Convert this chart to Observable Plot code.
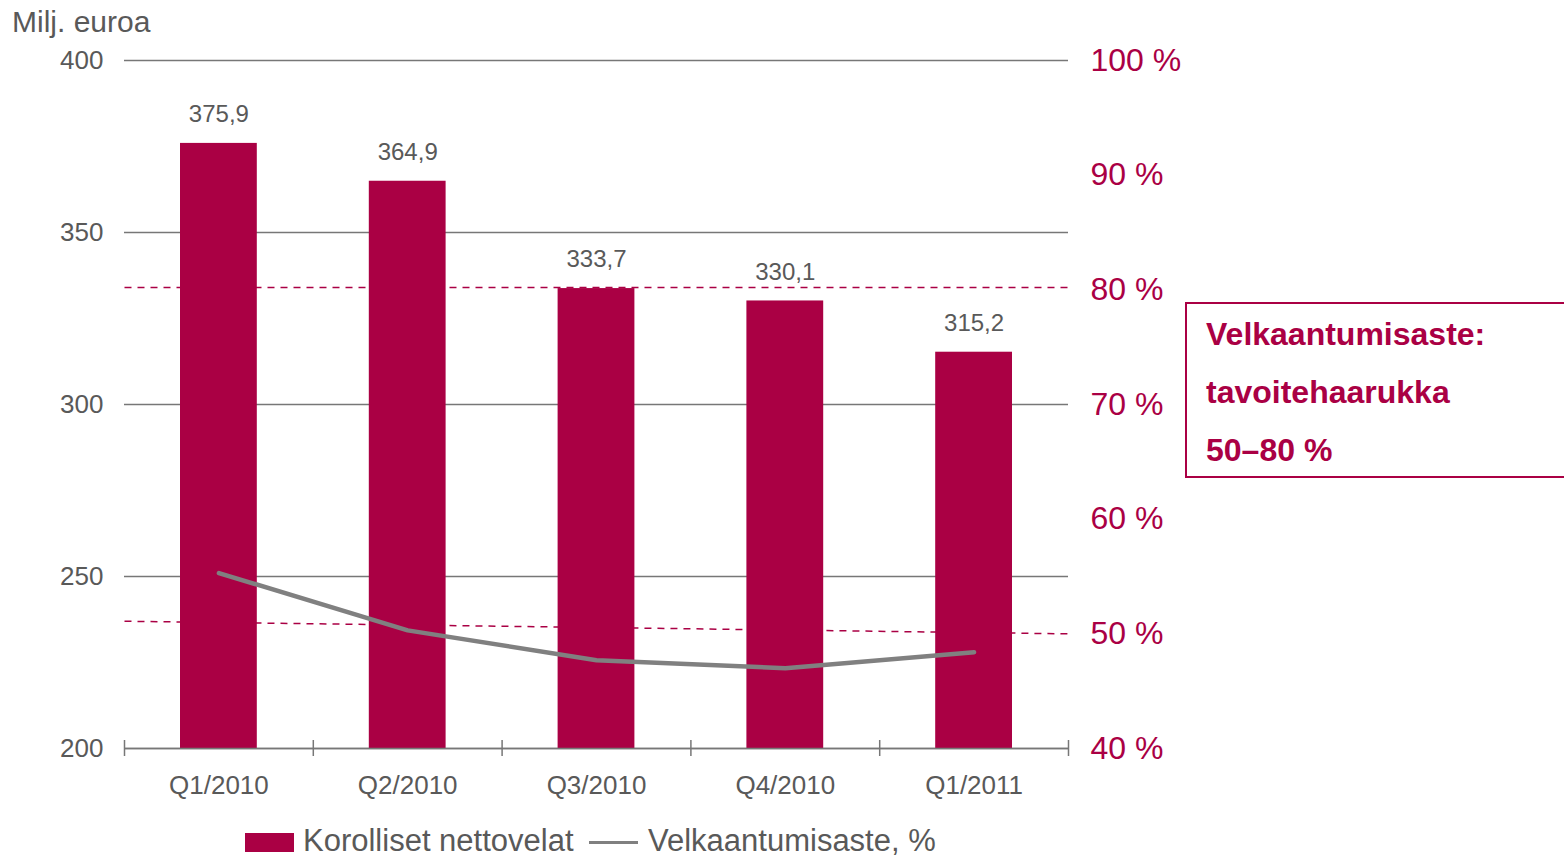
<!DOCTYPE html>
<html><head><meta charset="utf-8">
<script src="https://cdn.jsdelivr.net/npm/d3@7"></script>
<script src="https://cdn.jsdelivr.net/npm/@observablehq/plot@0.6"></script>
<style>
html,body{margin:0;padding:0;background:#fff}
body{width:1564px;height:858px;overflow:hidden;position:relative;font-family:"Liberation Sans",Arial,sans-serif}
#chart{position:absolute;left:0;top:0}
#ytitle{position:absolute;left:12px;top:7px;font-size:30px;line-height:30px;color:#595959;white-space:nowrap}
#box{position:absolute;left:1185px;top:302px;width:420px;height:176px;box-sizing:border-box;border:2px solid #AA0044;padding:1px 0 0 19px;color:#AA0044;font-weight:bold;font-size:32px;line-height:58px;white-space:nowrap}
.lg{position:absolute;white-space:nowrap}
.lgtext{top:825px;font-size:31px;line-height:31px;color:#595959}
</style>
</head><body>
<div id="chart"></div>
<div id="ytitle"></div>
<div id="box"></div>
<div id="legend"></div>
<script>
// ---- data ----
const quarters = ["Q1/2010", "Q2/2010", "Q3/2010", "Q4/2010", "Q1/2011"];
const netDebt = [375.9, 364.9, 333.7, 330.1, 315.2];          // Milj. euroa
const gearing = [55.3, 50.3, 47.7, 47.0, 48.4];               // Velkaantumisaste, %
const targetUpperStartEnd = [80.2, 80.2];                      // tavoitehaarukan yläraja (%)
const targetLowerStartEnd = [51.1, 50];                        // tavoitehaarukan alaraja (%)
const leftTicks = [200, 250, 300, 350, 400];
const rightTicks = [40, 50, 60, 70, 80, 90, 100];
const yTitle = "Milj. euroa";
const seriesNames = ["Korolliset nettovelat", "Velkaantumisaste, %"];
const boxLines = ["Velkaantumisaste:", "tavoitehaarukka", "50–80 %"];

const crimson = "#AA0044";
const grey = "#595959";

// map right (%) axis onto left scale
const lMin = leftTicks[0], lMax = leftTicks[leftTicks.length - 1];
const rMin = rightTicks[0], rMax = rightTicks[rightTicks.length - 1];
const toLeft = p => lMin + (p - rMin) * (lMax - lMin) / (rMax - rMin);
const fromLeft = v => rMin + (v - lMin) * (rMax - rMin) / (lMax - lMin);

const rows = quarters.map((q, i) => ({i, q, debt: netDebt[i], gear: gearing[i]}));
const targets = [
  {name: "upper", start: targetUpperStartEnd[0], end: targetUpperStartEnd[1]},
  {name: "lower", start: targetLowerStartEnd[0], end: targetLowerStartEnd[1]}
];
const n = quarters.length;
const fmt = v => v.toFixed(1).replace(".", ",");

const chart = Plot.plot({
  width: 1564,
  height: 800,
  marginLeft: 124,
  marginRight: 496,
  marginTop: 60,
  marginBottom: 52,
  style: {fontFamily: '"Liberation Sans", Arial, sans-serif', background: "transparent", overflow: "visible"},
  x: {domain: [0, n], axis: null},
  y: {domain: [lMin, lMax], axis: null},
  marks: [
    Plot.ruleY(leftTicks, {stroke: "#777", strokeWidth: 1.4}),
    Plot.link(targets, {x1: () => 0, x2: () => n, y1: d => toLeft(d.start), y2: d => toLeft(d.end),
      stroke: crimson, strokeWidth: 1.5, strokeDasharray: "7,6"}),
    Plot.rectY(rows, {x1: "i", x2: d => d.i + 1, y1: () => lMin, y2: "debt", insetLeft: 56, insetRight: 56, fill: crimson}),
    Plot.line(rows, {x: d => d.i + 0.5, y: d => toLeft(d.gear), stroke: "#808080", strokeWidth: 4.5, strokeLinecap: "round", strokeLinejoin: "round"}),
    Plot.ruleY([lMin], {stroke: "#777", strokeWidth: 1.5}),
    Plot.ruleX(d3.range(n + 1), {stroke: "#777", strokeWidth: 1.5, insetTop: 680, insetBottom: -8}),
    Plot.text(rows, {x: d => d.i + 0.5, y: "debt", text: d => fmt(d.debt), dy: -29, fontSize: 24, fill: grey}),
    Plot.text(rows, {x: d => d.i + 0.5, text: "q", frameAnchor: "bottom", dy: 45, fontSize: 26, fill: grey}),
    Plot.axisY({ticks: leftTicks, tickSize: 0, tickPadding: 21, fontSize: 26, color: grey, label: null}),
    Plot.axisY({anchor: "right", ticks: rightTicks.map(toLeft), tickFormat: v => Math.round(fromLeft(v)) + " %",
      tickSize: 0, tickPadding: 22, fontSize: 32, color: crimson, label: null})
  ]
});
document.getElementById("chart").appendChild(chart);
document.getElementById("ytitle").textContent = yTitle;
document.getElementById("box").innerHTML = boxLines.map(t => `<div>${t}</div>`).join("");
document.getElementById("legend").innerHTML =
  `<div class="lg" style="left:245px;top:833px;width:49px;height:19px;background:${crimson}"></div>` +
  `<div class="lg lgtext" style="left:303px">${seriesNames[0]}</div>` +
  `<div class="lg" style="left:589px;top:841px;width:49px;height:3px;background:#808080"></div>` +
  `<div class="lg lgtext" style="left:648px">${seriesNames[1]}</div>`;
</script>
</body></html>
